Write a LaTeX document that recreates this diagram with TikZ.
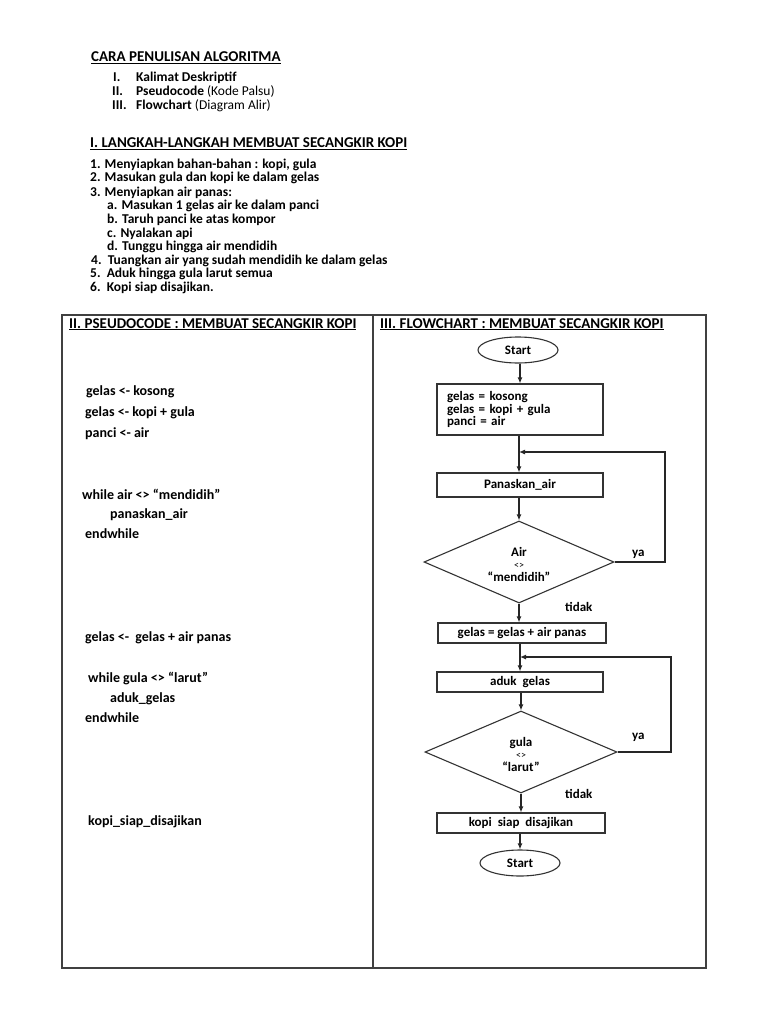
\documentclass[tikz,border=0pt]{standalone}
\usepackage{fontspec}
\setmainfont{Carlito}
\usetikzlibrary{shapes.geometric,arrows.meta}
\begin{document}
\begin{tikzpicture}[x=1pt,y=-1pt,
  txt/.style={anchor=base west,inner sep=0pt,font=\fontsize{13.5}{13.5}\selectfont\bfseries},
  head/.style={anchor=base west,inner sep=0pt,font=\fontsize{15}{15}\selectfont\bfseries},
  code/.style={anchor=base west,inner sep=0pt,font=\fontsize{14}{14}\selectfont\bfseries},
  fctext/.style={inner sep=0pt,align=center,font=\fontsize{13}{13}\selectfont\bfseries},
  lbl/.style={anchor=base west,inner sep=0pt,font=\fontsize{13}{13}\selectfont\bfseries},
  frame/.style={draw=black!75,line width=1.2pt},
  box/.style={draw=black!80,line width=1.1pt,rectangle,minimum width=166pt,minimum height=20pt,inner sep=0pt,font=\fontsize{13}{13}\selectfont\bfseries},
  term/.style={draw=black!80,line width=1.1pt,ellipse,minimum width=80pt,minimum height=26pt,inner sep=0pt,font=\fontsize{13}{13}\selectfont\bfseries},
  dec/.style={draw=black!80,line width=1.1pt,diamond,minimum width=190pt,minimum height=82pt,inner sep=0pt},
  arr/.style={draw=black!85,line width=1.2pt,-{Latex[length=6pt,width=5pt]}},
  loopline/.style={draw=black!85,line width=1.1pt,-{Latex[length=6pt,width=5pt]}},
]
\useasboundingbox[fill=white] (0,0) rectangle (768,1024);

% ---------- top part ----------
\node[head] (t0) at (91,62) {\underline{CARA PENULISAN ALGORITMA}};
\node[txt] (r1n) at (113,82) {I.};
\node[txt] (r1t) at (136,82) {Kalimat Deskriptif};
\node[txt] (r2n) at (112,96) {II.};
\node[txt] (r2t) at (136,96) {Pseudocode \mdseries(Kode Palsu)};
\node[txt] (r3n) at (112,110) {III.};
\node[txt] (r3t) at (136,110) {Flowchart \mdseries(Diagram Alir)};

\node[head] (t1) at (90,148) {\underline{I. LANGKAH-LANGKAH MEMBUAT SECANGKIR KOPI}};
\node[txt] (s1) at (90,169) {1. Menyiapkan bahan-bahan : kopi, gula};
\node[txt] (s2) at (90,182) {2. Masukan gula dan kopi ke dalam gelas};
\node[txt] (s3) at (90,197) {3. Menyiapkan air panas:};
\node[txt] (s3a) at (107,210) {a. Masukan 1 gelas air ke dalam panci};
\node[txt] (s3b) at (107,223) {b. Taruh panci ke atas kompor};
\node[txt] (s3c) at (107,237) {c. Nyalakan api};
\node[txt] (s3d) at (107,251) {d. Tunggu hingga air mendidih};
\node[txt] (s4) at (91,264) {4.\ \ Tuangkan air yang sudah mendidih ke dalam gelas};
\node[txt] (s5) at (90,277) {5.\ \ Aduk hingga gula larut semua};
\node[txt] (s6) at (90,291) {6.\ \ Kopi siap disajikan.};

% ---------- frame ----------
\draw[frame] (62,315) rectangle (706,968);
\draw[frame] (373,315) -- (373,968);

% ---------- pseudocode ----------
\node[head] (h2) at (69,328) {\underline{II. PSEUDOCODE : MEMBUAT SECANGKIR KOPI}};
\node[code] (p1) at (86,395) {gelas <- kosong};
\node[code] (p2) at (85,416) {gelas <-\ kopi + gula};
\node[code] (p3) at (85,437) {panci <-\ air};
\node[code] (p4) at (82,499) {while air <> “mendidih”};
\node[code] (p5) at (110,518) {panaskan\_air};
\node[code] (p6) at (85,538) {endwhile};
\node[code] (p7) at (85,641) {gelas <-\ \ gelas + air panas};
\node[code] (p8) at (88,682) {while gula <> “larut”};
\node[code] (p9) at (110,702) {aduk\_gelas};
\node[code] (p10) at (85,722) {endwhile};
\node[code] (p11) at (88,825) {kopi\_siap\_disajikan};

% ---------- flowchart ----------
\node[head] (h3) at (380,328) {\underline{III. FLOWCHART : MEMBUAT SECANGKIR KOPI}};

\node[term] (st) at (518,350) {Start};
\node[box,minimum height=51pt,text width=146pt,align=left,
      font=\fontsize{13}{12.5}\selectfont\bfseries] (b1) at (520,409.5)
      {gelas = kosong\\gelas = kopi + gula\\panci = air};
\node[box,minimum height=24pt] (b2) at (520,485) {Panaskan\_air};
\node[dec] (d1) at (519,562) {};
\node[fctext] (d1t) at (519,564) {Air\\[-1pt]{\fontsize{10}{10}\selectfont\mdseries <>}\\“mendidih”};
\node[box,minimum width=168pt] (b3) at (522,633) {gelas = gelas + air panas};
\node[box] (b4) at (520,682) {aduk\ \ gelas};
\node[dec,minimum width=192pt] (d2) at (521,752) {};
\node[fctext] (d2t) at (521,754) {gula\\[-1pt]{\fontsize{10}{10}\selectfont\mdseries <>}\\“larut”};
\node[box,minimum width=168pt] (b5) at (521,823) {kopi\ \ siap\ \ disajikan};
\node[term] (en) at (520,863) {Start};

\node[lbl] (ya1) at (632,556) {ya};
\node[lbl] (td1) at (565,611) {tidak};
\node[lbl] (ya2) at (632,739) {ya};
\node[lbl] (td2) at (565,798) {tidak};

\coordinate (j1) at (519,452);
\coordinate (c1) at (665,452);
\coordinate (j2) at (520,657);
\coordinate (c2) at (671,657);

\draw[arr] (st.south -| b1.north) -- (b1.north);
\draw[arr] (b1.south -| j1) -- (b2.north -| j1);
\draw[arr] (b2.south -| d1.north) -- (d1.north);
\draw[arr] (d1.south) -- (b3.north -| d1.south);
\draw[arr] (b3.south -| j2) -- (b4.north -| j2);
\draw[arr] (b4.south -| d2.north) -- (d2.north);
\draw[arr] (d2.south) -- (b5.north -| d2.south);
\draw[arr] (b5.south -| en.north) -- (en.north);

\draw[loopline] (d1.east) -| (c1) -- (j1);
\draw[loopline] (d2.east) -| (c2) -- (j2);
\end{tikzpicture}
\end{document}
